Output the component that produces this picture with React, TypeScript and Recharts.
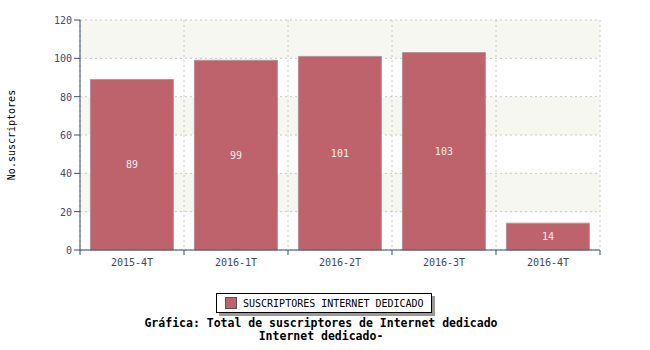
import { BarChart, Bar, XAxis, YAxis, CartesianGrid, LabelList } from 'recharts';

const periods = ['2015-4T', '2016-1T', '2016-2T', '2016-3T', '2016-4T'];
const subscribers = [89, 99, 101, 103, 14];
const yTicks = [0, 10, 20, 30, 40, 50, 60, 70, 80, 90, 100, 110, 120];
const boundaryTicks = [0, 1, 2, 3, 4, 5];

const data = periods.map((p, i) => ({ period: p, value: subscribers[i], pos: i + 0.5 }));

const mono = '"DejaVu Sans Mono", monospace';
const axisColor = '#3b4a72';
const barColor = '#be626b';

// major ticks get a label and a longer mark, minor ones just a short mark
const YTick = (props: any) => {
  const { x, y, payload } = props;
  const major = payload.value % 20 === 0;
  return (
    <g>
      <line x1={x - (major ? 6 : 3)} x2={x} y1={y} y2={y} stroke={axisColor} />
      {major && (
        <text x={x - 8} y={y} dy={4} textAnchor="end" fill={axisColor} fontSize={10} fontFamily={mono}>
          {payload.value}
        </text>
      )}
    </g>
  );
};

export default function App() {
  return (
    <div style={{ position: 'absolute', left: 0, top: 0, width: 650, height: 350, background: '#fff', fontFamily: mono }}>
      <BarChart
        width={650}
        height={350}
        data={data}
        margin={{ top: 20, right: 50, left: 79, bottom: 70 }}
        barCategoryGap="10%"
      >
        <CartesianGrid
          xAxisId="a"
          stroke="#c8c8c8"
          strokeDasharray="2 3"
          horizontalFill={['#f7f7f2', '#ffffff']}
          fillOpacity={1}
        />
        <XAxis
          xAxisId="a"
          type="number"
          dataKey="pos"
          domain={[0, 5]}
          ticks={boundaryTicks}
          tickFormatter={() => ''}
          height={1}
          stroke={axisColor}
          tickSize={5}
        />
        <XAxis
          xAxisId="b"
          dataKey="period"
          height={29}
          axisLine={false}
          tickLine={false}
          tick={{ fill: axisColor, fontSize: 10, fontFamily: mono }}
          tickMargin={2}
        />
        <YAxis
          domain={[0, 120]}
          ticks={yTicks}
          width={1}
          stroke={axisColor}
          tickLine={false}
          tickSize={0}
          tickMargin={0}
          tick={<YTick />}
        />
        <Bar
          xAxisId="b"
          dataKey="value"
          fill={barColor}
          stroke="#b89098"
          strokeWidth={1}
          isAnimationActive={false}
        >
          <LabelList dataKey="value" position="center" fill="#f4eeee" fontSize={10} fontFamily={mono} />
        </Bar>
      </BarChart>
      <div
        style={{
          position: 'absolute',
          left: 3,
          top: 135,
          fontSize: 10,
          transform: 'translate(-50%, -50%) rotate(-90deg)',
          transformOrigin: 'center',
          marginLeft: 8,
          whiteSpace: 'nowrap',
        }}
      >
        No.suscriptores
      </div>
      <div
        style={{
          position: 'absolute',
          left: 216,
          top: 293,
          width: 214,
          height: 18,
          border: '1px solid #000',
          background: '#fff',
          boxShadow: '3px 3px 0 #999',
          display: 'flex',
          alignItems: 'center',
          fontSize: 10,
        }}
      >
        <span style={{ display: 'inline-block', width: 10, height: 10, background: barColor, border: '1px solid #555', marginLeft: 8, marginRight: 6 }} />
        <span>SUSCRIPTORES INTERNET DEDICADO</span>
      </div>
      <div style={{ position: 'absolute', left: 0, top: 317, width: 642, textAlign: 'center', fontWeight: 'bold', fontSize: 11.5, lineHeight: '13px' }}>
        <div>Gráfica: Total de suscriptores de Internet dedicado</div>
        <div>Internet dedicado-</div>
      </div>
    </div>
  );
}
